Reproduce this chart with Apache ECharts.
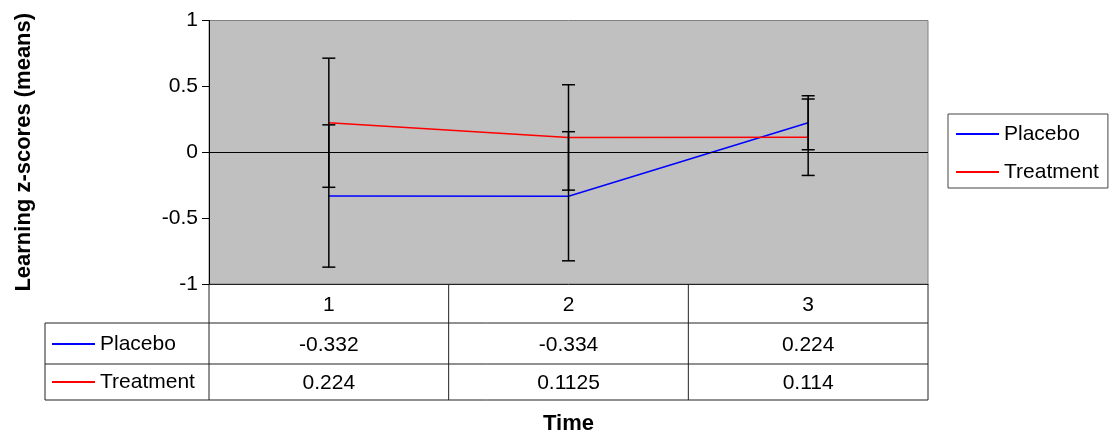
<!DOCTYPE html>
<html>
<head>
<meta charset="utf-8">
<script src="https://cdn.jsdelivr.net/npm/echarts@6/dist/echarts.min.js"></script>
<style>
html,body{margin:0;padding:0;background:#fff;}
#chart{width:1117px;height:433px;}
</style>
</head>
<body>
<div id="chart"></div>
<script>
// ---- data ----
const categories = ['1', '2', '3'];
const seriesNames = ['Placebo', 'Treatment'];
const placebo = [-0.332, -0.334, 0.224];
const treatment = [0.224, 0.1125, 0.114];
const placeboErr = [0.54, 0.49, 0.205];
const treatmentErr = [0.49, 0.40, 0.29];
const yTicks = [-1, -0.5, 0, 0.5, 1];

// ---- layout constants ----
const FONT = "'Liberation Sans', Arial, sans-serif";
const GL = 209, GR = 928, GT = 20.5, GB = 284;
const rowH = [323, 364, 400];
const hdrL = 45;

function errData(means, errs) {
  return means.map((m, i) => [i, m - errs[i], m + errs[i]]);
}

function renderErr(params, api) {
  const i = api.value(0);
  const lo = api.coord([i, api.value(1)]);
  const hi = api.coord([i, api.value(2)]);
  const w = 6.5;
  const style = { stroke: '#000', lineWidth: 1.5 };
  return {
    type: 'group',
    children: [
      { type: 'line', shape: { x1: lo[0], y1: lo[1], x2: hi[0], y2: hi[1] }, style },
      { type: 'line', shape: { x1: lo[0] - w, y1: lo[1], x2: lo[0] + w, y2: lo[1] }, style },
      { type: 'line', shape: { x1: hi[0] - w, y1: hi[1], x2: hi[0] + w, y2: hi[1] }, style }
    ]
  };
}

const chart = echarts.init(document.getElementById('chart'), null, { renderer: 'canvas' });

const lines = [];
const colBounds = [];
const bw = (GR - GL) / categories.length;
for (let k = 0; k <= categories.length; k++) colBounds.push(GL + k * bw);
colBounds.forEach(x => lines.push([x, GB, x, rowH[2]]));
lines.push([hdrL, rowH[0], hdrL, rowH[2]]);
rowH.forEach(y => lines.push([hdrL, y, GR, y]));

const graphic = lines.map(l => ({
  type: 'line',
  shape: { x1: l[0], y1: l[1], x2: l[2], y2: l[3] },
  style: { stroke: '#222', lineWidth: 1 },
  silent: true
}));

const baseX = {
  type: 'category',
  data: categories,
  gridIndex: 0,
  position: 'bottom',
  boundaryGap: true,
  axisTick: { show: false },
  splitLine: { show: false },
  axisLine: { show: false, onZero: false },
  axisLabel: { fontSize: 21, color: '#000', fontFamily: FONT, lineHeight: 21 }
};

const option = {
  animation: false,
  backgroundColor: '#fff',
  textStyle: { fontFamily: FONT },
  grid: {
    left: GL, right: 1117 - GR, top: GT, bottom: 433 - GB,
    containLabel: false,
    outerBoundsMode: 'none',
    show: true, backgroundColor: '#C0C0C0', borderColor: '#808080', borderWidth: 1
  },
  legend: [
    {
      data: seriesNames,
      orient: 'vertical',
      left: 948, top: 114,
      padding: [9, 9, 5, 8],
      itemGap: 16,
      itemWidth: 43, itemHeight: 2,
      icon: 'rect',
      borderColor: '#444', borderWidth: 1,
      textStyle: { fontSize: 21, color: '#000', fontFamily: FONT, lineHeight: 22 },
      selectedMode: false
    },
    {
      data: seriesNames,
      orient: 'vertical',
      left: 52, top: 333,
      padding: 0,
      itemGap: 16,
      itemWidth: 43, itemHeight: 2,
      icon: 'rect',
      textStyle: { fontSize: 21, color: '#000', fontFamily: FONT, lineHeight: 22 },
      selectedMode: false
    }
  ],
  xAxis: [
    Object.assign({}, baseX, {
      axisLine: { show: true, onZero: false, lineStyle: { color: '#222', width: 1 } },
      axisLabel: Object.assign({}, baseX.axisLabel, { margin: 11 }),
      name: 'Time',
      nameLocation: 'middle',
      nameGap: 129,
      nameTextStyle: { fontSize: 22, fontWeight: 'bold', color: '#000', fontFamily: FONT }
    }),
    Object.assign({}, baseX, {
      offset: 40,
      axisLabel: Object.assign({}, baseX.axisLabel, { margin: 11, formatter: (v, i) => String(placebo[i]) })
    }),
    Object.assign({}, baseX, {
      offset: 77.5,
      axisLabel: Object.assign({}, baseX.axisLabel, { margin: 11, formatter: (v, i) => String(treatment[i]) })
    })
  ],
  yAxis: {
    type: 'value',
    min: yTicks[0], max: yTicks[yTicks.length - 1], interval: 0.5,
    axisLine: { show: true, lineStyle: { color: '#000', width: 1 } },
    axisTick: { show: true, length: 7, lineStyle: { color: '#000' } },
    splitLine: { show: false },
    axisLabel: { fontSize: 21, color: '#000', fontFamily: FONT, margin: 11 },
    name: 'Learning z-scores (means)',
    nameLocation: 'middle',
    nameGap: 174,
    nameRotate: 90,
    nameTextStyle: { fontSize: 22, fontWeight: 'bold', color: '#000', fontFamily: FONT }
  },
  series: [
    {
      name: seriesNames[0], type: 'line', data: placebo,
      showSymbol: false, symbol: 'none',
      itemStyle: { color: '#0000FF' },
      lineStyle: { color: '#0000FF', width: 1.5 },
      z: 3,
      markLine: {
        silent: true, symbol: 'none',
        label: { show: false },
        lineStyle: { color: '#000', type: 'solid', width: 1 },
        data: [{ yAxis: 0 }]
      }
    },
    {
      name: seriesNames[1], type: 'line', data: treatment,
      showSymbol: false, symbol: 'none',
      itemStyle: { color: '#FF0000' },
      lineStyle: { color: '#FF0000', width: 1.5 },
      z: 3
    },
    {
      name: 'PlaceboErr', type: 'custom', data: errData(placebo, placeboErr),
      renderItem: renderErr, z: 5, silent: true,
      encode: { x: 0, y: [1, 2] }
    },
    {
      name: 'TreatmentErr', type: 'custom', data: errData(treatment, treatmentErr),
      renderItem: renderErr, z: 5, silent: true,
      encode: { x: 0, y: [1, 2] }
    }
  ],
  graphic: graphic
};

chart.setOption(option);
</script>
</body>
</html>
